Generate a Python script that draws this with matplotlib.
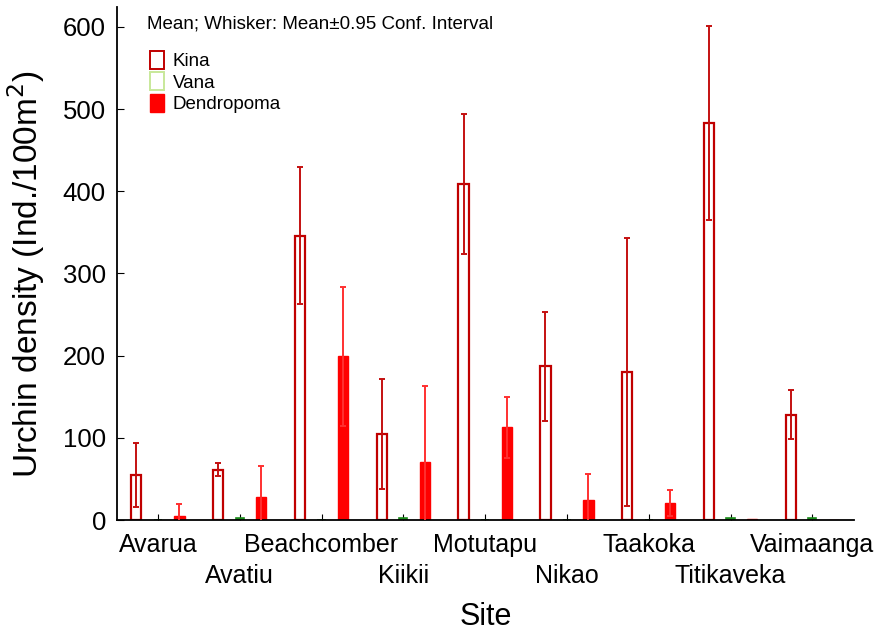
import numpy as np
import matplotlib.pyplot as plt
from matplotlib.patches import Patch

plt.rcParams['font.family'] = ['Liberation Sans', 'DejaVu Sans']

sites = ['Avarua', 'Avatiu', 'Beachcomber', 'Kiikii', 'Motutapu',
         'Nikao', 'Taakoka', 'Titikaveka', 'Vaimaanga']

# means and 95% confidence half-widths
kina_mean = [55, 61, 346, 105, 409, 187, 180, 483, 128]
kina_ci = [39, 8, 83, 67, 85, 66, 163, 118, 30]
vana_mean = [0, 2, 0, 2, 0, 0, 0, 3, 2]
dendro_mean = [5, 28, 199, 70, 113, 24, 21, 1, 0]
dendro_ci = [15, 38, 85, 93, 37, 32, 16, 0, 0]

fig = plt.figure(figsize=(8.79, 6.34), dpi=100)
ax = fig.add_axes([0.1331, 0.1798, 0.8385, 0.809])

x = np.arange(len(sites))
off = 0.263
w = 0.125

ax.bar(x - off, kina_mean, w, facecolor='white', edgecolor='#c00000', linewidth=1.6, zorder=2)
ax.errorbar(x - off, kina_mean, yerr=kina_ci, fmt='none', ecolor='#c41010',
            elinewidth=1.4, capsize=2.5, capthick=1.4, zorder=3)

ax.bar(x, vana_mean, w * 0.8, facecolor='#1a8a1a', edgecolor='#1a8a1a', linewidth=1.2, zorder=2)

ax.bar(x + off, dendro_mean, w, facecolor='#ff0000', edgecolor='#ff0000', linewidth=1, zorder=2)
dm = np.array(dendro_mean)
dc = np.array(dendro_ci)
has = dc > 0
ax.errorbar((x + off)[has], dm[has], yerr=dc[has], fmt='none', ecolor='#ff3030',
            elinewidth=1.4, capsize=2.5, capthick=1.4, zorder=3)

ax.set_xlim(-0.50, 8.51)
ax.set_ylim(0, 624)
ax.set_yticks([0, 100, 200, 300, 400, 500, 600])
ax.set_xticks(x)
ax.set_xticklabels([s if i % 2 == 0 else '\n' + s for i, s in enumerate(sites)])
for t in ax.get_xticklabels():
    t.set_linespacing(1.4)
ax.tick_params(axis='x', direction='in', length=4, labelsize=18, pad=9)
ax.tick_params(axis='y', direction='in', length=5, labelsize=18.5, pad=8)

ax.spines['top'].set_visible(False)
ax.spines['right'].set_visible(False)
ax.spines['left'].set_linewidth(1.3)
ax.spines['bottom'].set_linewidth(1.3)

ax.set_ylabel('Urchin density (Ind./100m$^2$)', fontsize=24)
ax.yaxis.set_label_coords(-0.095, 0.48)
ax.set_xlabel('Site', fontsize=22, labelpad=10)

ax.text(0.041, 0.983, 'Mean; Whisker: Mean\u00b10.95 Conf. Interval', transform=ax.transAxes,
        fontsize=13.5, va='top', ha='left')

handles = [Patch(facecolor='white', edgecolor='#c00000', linewidth=1.4, label='Kina'),
           Patch(facecolor='white', edgecolor='#c8e89a', linewidth=1.4, label='Vana'),
           Patch(facecolor='#ff0000', edgecolor='#ff0000', label='Dendropoma')]
ax.legend(handles=handles, loc='upper left', bbox_to_anchor=(0.034, 0.93), frameon=False,
          fontsize=13.5, handlelength=0.75, handleheight=1.1, handletextpad=0.5,
          labelspacing=0.12, borderaxespad=0)

fig.savefig('out.png', dpi=100)
